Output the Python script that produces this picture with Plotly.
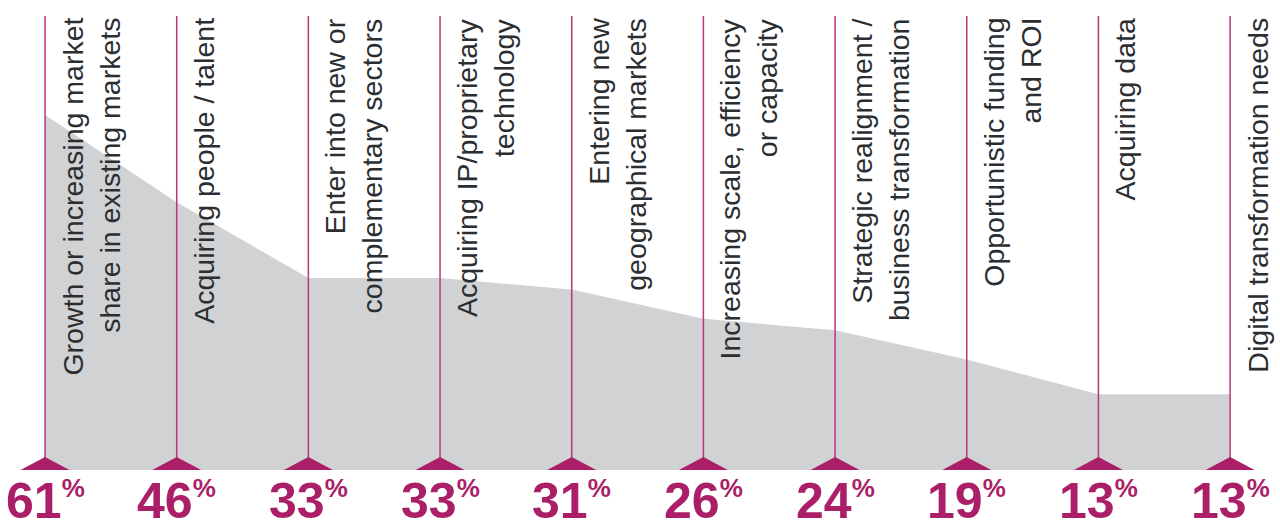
import plotly.graph_objects as go

# Deal drivers and share of respondents citing each (%)
categories = [
    "Growth or increasing market<br>share in existing markets",
    "Acquiring people / talent",
    "Enter into new or<br>complementary sectors",
    "Acquiring IP/proprietary<br>technology",
    "Entering new<br>geographical markets",
    "Increasing scale, efficiency<br>or capacity",
    "Strategic realignment /<br>business transformation",
    "Opportunistic funding<br>and ROI",
    "Acquiring data",
    "Digital transformation needs",
]
values = [61, 46, 33, 33, 31, 26, 24, 19, 13, 13]

MAGENTA = "#aa1f68"
LINE = "#b8367a"
GREY = "#d1d2d4"
TEXT = "#2b2e30"

W, H = 1280, 522
X_RANGE = [-0.342, 9.379]
Y_RANGE = [-8.93, 80.76]
px_x = W / (X_RANGE[1] - X_RANGE[0])   # pixels per category step
px_y = H / (Y_RANGE[1] - Y_RANGE[0])   # pixels per percentage point

xs = list(range(len(values)))

fig = go.Figure()
fig.add_trace(go.Scatter(
    x=xs, y=values, mode="lines", fill="tozeroy",
    fillcolor=GREY, line=dict(width=0, color=GREY),
    hoverinfo="skip", showlegend=False,
))

top_val = (470 - 16) / px_y  # top of the divider lines
tri_half = 24.5 / px_x
tri_h = 13 / px_y

shapes = []
annotations = []
for i, (cat, v) in enumerate(zip(categories, values)):
    shapes.append(dict(type="line", xref="x", yref="y", x0=i, x1=i, y0=0, y1=top_val,
                       line=dict(color=LINE, width=1.5), layer="above"))
    shapes.append(dict(type="path", xref="x", yref="y",
                       path=f"M {i - tri_half} 0 L {i} {tri_h} L {i + tri_half} 0 Z",
                       fillcolor=MAGENTA, line=dict(width=0), layer="above"))
    annotations.append(dict(
        x=i, y=top_val, xref="x", yref="y", text=cat, textangle=-90,
        xanchor="left", yanchor="top", align="right", showarrow=False,
        xshift=9, font=dict(family="Liberation Sans, Arial, sans-serif", size=28.5, color=TEXT),
    ))
    annotations.append(dict(
        x=i, y=0, xref="x", yref="y",
        text=f"<b>{v}</b><sup><b><span style='font-size:26px'>%</span></b></sup>",
        xanchor="center", yanchor="top", showarrow=False, yshift=-1,
        font=dict(family="Liberation Sans Narrow, Liberation Sans, Arial, sans-serif", size=50, color=MAGENTA),
    ))

fig.update_layout(
    width=W, height=H,
    margin=dict(l=0, r=0, t=0, b=0),
    paper_bgcolor="white", plot_bgcolor="white",
    xaxis=dict(range=X_RANGE, visible=False, fixedrange=True),
    yaxis=dict(range=Y_RANGE, visible=False, fixedrange=True),
    shapes=shapes, annotations=annotations,
    showlegend=False,
)

fig.write_html("out.html", config={"displayModeBar": False})
